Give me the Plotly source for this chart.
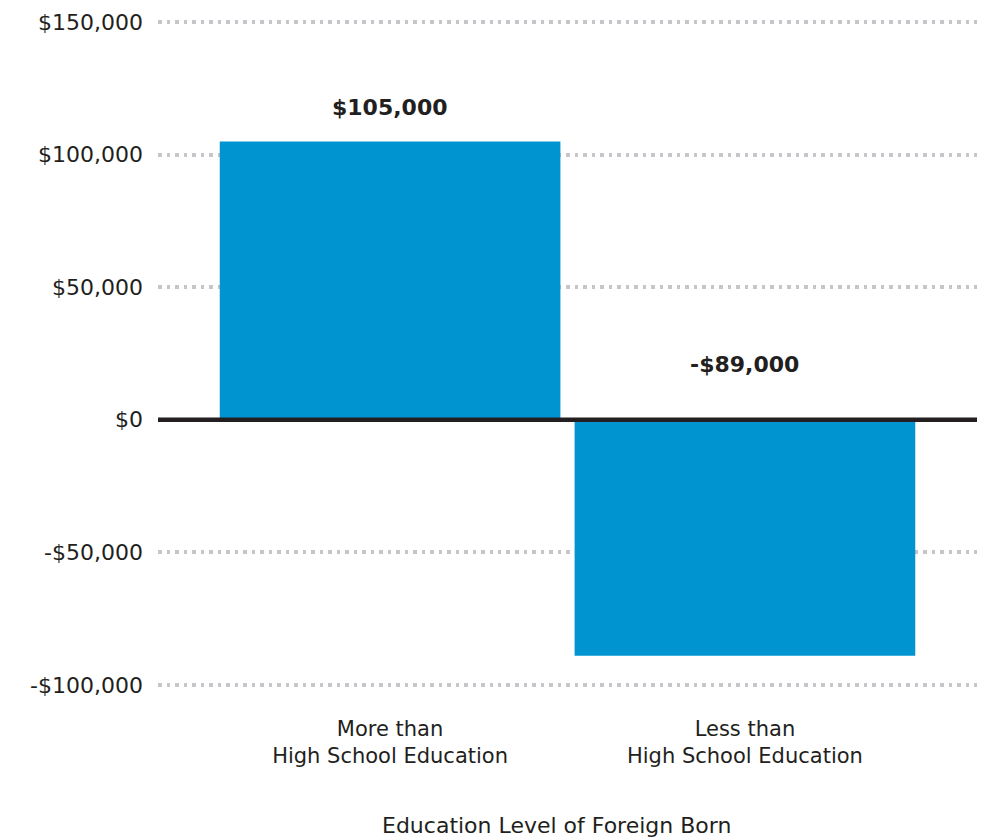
import plotly.graph_objects as go

categories = ["More than<br>High School Education", "Less than<br>High School Education"]
values = [105000, -89000]
value_labels = ["$105,000", "-$89,000"]
tick_vals = [-100000, -50000, 0, 50000, 100000, 150000]
tick_text = ["-$100,000", "-$50,000", "$0", "$50,000", "$100,000", "$150,000"]
x_title = "Education Level of Foreign Born"

FONT = "DejaVu Sans"
TXT = "#231f20"
BAR = "#0094d0"

fig = go.Figure()
fig.add_trace(go.Bar(
    x=[0, 1], y=values, width=0.96,
    marker=dict(color=BAR, line=dict(width=0)),
    hoverinfo="skip",
))

ann = []
ann.append(dict(x=0, y=values[0], xref="x", yref="y", text="<b>" + value_labels[0] + "</b>",
                showarrow=False, yshift=34, font=dict(family=FONT, size=22, color=TXT)))
ann.append(dict(x=1, y=0, xref="x", yref="y", text="<b>" + value_labels[1] + "</b>",
                showarrow=False, yshift=55, font=dict(family=FONT, size=22, color=TXT)))
ann.append(dict(x=0.486, y=-0.2105, xref="paper", yref="paper", text=x_title,
                showarrow=False, font=dict(family=FONT, size=22, color=TXT), yanchor="middle"))

fig.update_layout(
    width=970, height=829,
    margin=dict(l=150, r=1, t=13, b=151),
    paper_bgcolor="white", plot_bgcolor="white",
    showlegend=False,
    font=dict(family=FONT, size=20, color=TXT),
    annotations=ann,
    shapes=[dict(type="line", xref="paper", yref="y", x0=0, x1=1, y0=0, y1=0,
                 line=dict(color=TXT, width=4.5), layer="above")],
    xaxis=dict(range=[-0.654, 1.654], tickmode="array", tickvals=[0, 1], ticktext=categories,
               showgrid=False, zeroline=False, showline=False, ticks="", automargin=False,
               tickfont=dict(family=FONT, size=21, color=TXT), ticklabelstandoff=28),
    yaxis=dict(range=[-100400, 150400], tickmode="array", tickvals=tick_vals, ticktext=tick_text,
               showgrid=True, gridcolor="#c6c6ca", gridwidth=3.5, griddash="3.5px,5px",
               zeroline=False, showline=False, ticks="", automargin=False,
               tickfont=dict(family=FONT, size=22, color=TXT), ticklabelstandoff=14),
)

fig.write_html("out.html")
